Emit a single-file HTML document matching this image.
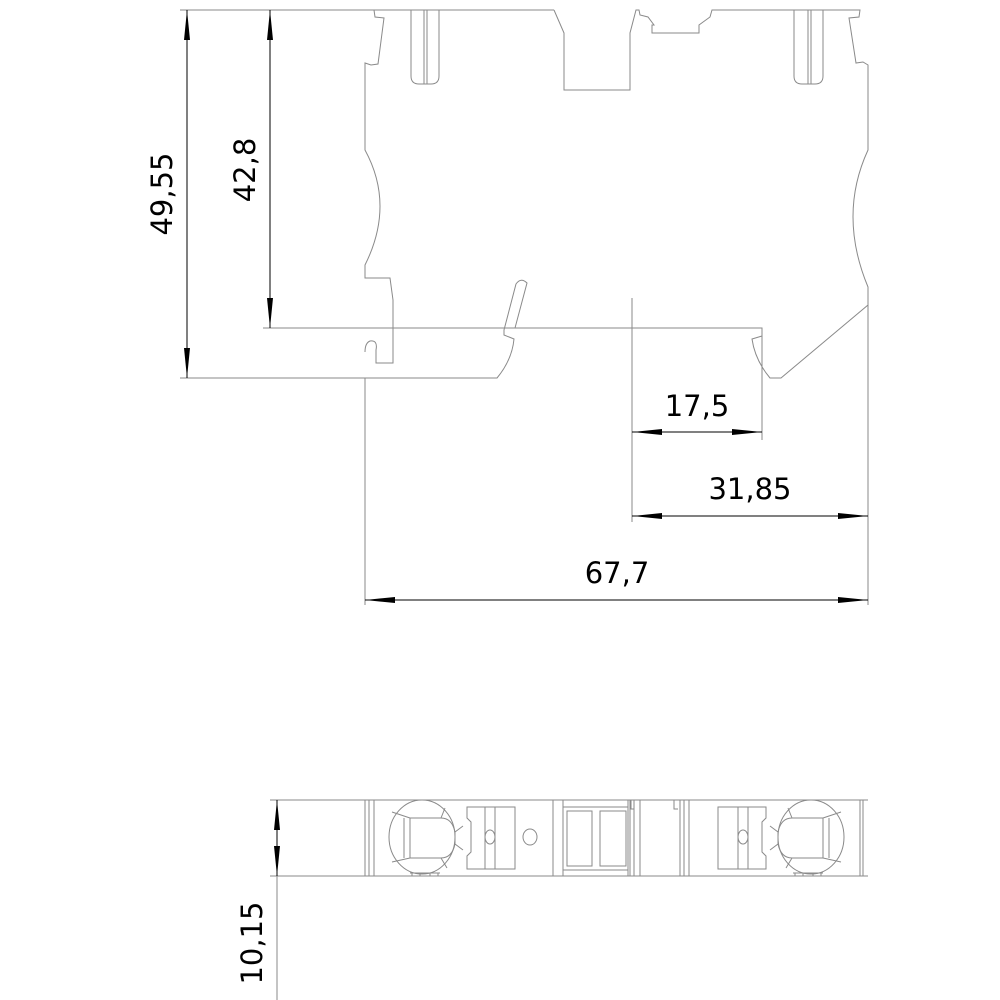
<!DOCTYPE html>
<html><head><meta charset="utf-8"><style>
html,body{margin:0;padding:0;background:#fff;}
svg{display:block;}
text{font-family:"DejaVu Sans","Liberation Sans",sans-serif;font-size:29px;fill:#000;}
</style></head><body>
<svg width="1000" height="1000" viewBox="0 0 1000 1000" xmlns="http://www.w3.org/2000/svg">
<defs>
<marker id="a" markerWidth="30" markerHeight="10" refX="30" refY="5" orient="auto" markerUnits="userSpaceOnUse">
<path d="M0,2 L30,5 L0,8 Z" fill="#000"/></marker>
<marker id="b" markerWidth="30" markerHeight="10" refX="0" refY="5" orient="auto" markerUnits="userSpaceOnUse">
<path d="M30,2 L0,5 L30,8 Z" fill="#000"/></marker>
</defs>
<g fill="none" stroke="#8a8a8a" stroke-width="1">
<!-- main outline -->
<path d="M554,10 L564,33 L564,90 L630,90 L630,33 L636,10 L639,10 L640,15 L648,17 L654,25 L652,25 L652,33 L699,33 L699,25 L710,17 L712,10 L860,10 L859,17 L849,18 L856,63 L863,62 L868,65 L868,150 Q838,215 868,287 L868,305 L781,378 L770,378 Q755,360 752,339 L762,336"/>
<path d="M374,10 L554,10"/>
<path d="M374,10 L375,17 L384,18 L378,64 L371,65 L365,63 L365,150 Q395,205 365,265 L365,278 L390,278 L393,300 L393,363 L376,363 L376,350 Q378,340 370,341 Q365,343 365,352"/>
<path d="M365,378 L497,378 Q512,360 514,339 L504,335 L504,330 L516,284 Q521,277 527,283 L515,328"/>
<!-- slots -->
<path d="M411,10 L411,76 Q411,84 419,84 L431,84 Q439,84 439,76 L439,10"/>
<path d="M424,10 L424,84 M427,10 L427,84"/>
<path d="M794,10 L794,76 Q794,84 802,84 L815,84 Q823,84 823,76 L823,10"/>
<path d="M808,10 L808,84 M811,10 L811,84"/>
<!-- extension lines -->
<path d="M180,10 L374,10 M180,378 L365,378 M263,328 L762,328 L762,440 M632,298 L632,522 M365,378 L365,605 M868,305 L868,605"/>
<!-- bottom view -->
<path d="M270,800 L868,800 M270,876 L868,876 M277,800 L277,1000"/>
<path d="M365,800 V876 M369,800 V876 M374,800 V876 M553,800 V876 M563,800 V876 M628,800 V876 M630,800 V876 M634,800 V876 M640,800 V876 M680,800 V876 M684,800 V876 M689,800 V876 M860,800 V876 M863,800 V876"/>
<ellipse cx="422" cy="837" rx="33" ry="37"/>
<path d="M410,818 L441,818 Q452,818 455,832 L455,844 Q452,858 441,858 L410,858 Z M404,818 L404,858 M392,812 L410,818 M441,818 L445,808 M455,832 L463,826 M455,844 L463,850 M441,858 L447,868 M410,858 L392,862"/>
<path d="M412,873 V876 M420,873 V876 M430,873 V876 M438,873 V876 M410,873 H440"/>
<path d="M467,807 H515 V869 H467 V856 L471,852 V822 L467,818 Z M485,807 V869 M495,807 V869"/>
<ellipse cx="490" cy="837" rx="5" ry="7"/>
<ellipse cx="530" cy="837" rx="7" ry="8"/>
<path d="M563,807 H628 M567,811 H592 V866 H567 Z M600,811 H626 V866 H600 Z M563,870 H628"/>
<path d="M631,800 V809 H634 M674,800 V809 H678"/>
<ellipse cx="811" cy="837" rx="33" ry="37"/>
<path d="M823,818 L792,818 Q781,818 778,832 L778,844 Q781,858 792,858 L823,858 Z M829,818 L829,858 M841,812 L823,818 M792,818 L788,808 M778,832 L770,826 M778,844 L770,850 M792,858 L786,868 M823,858 L841,862"/>
<path d="M795,873 V876 M803,873 V876 M813,873 V876 M821,873 V876 M793,873 H823"/>
<path d="M718,807 H766 V818 L762,822 V852 L766,856 V869 H718 Z M738,807 V869 M748,807 V869"/>
<ellipse cx="743" cy="837" rx="5" ry="7"/>
</g>
<!-- dimension lines -->
<g stroke="#000" stroke-width="1" fill="none">
<line x1="187" y1="10" x2="187" y2="378" marker-start="url(#b)" marker-end="url(#a)"/>
<line x1="270" y1="10" x2="270" y2="328" marker-start="url(#b)" marker-end="url(#a)"/>
<line x1="632" y1="432" x2="762" y2="432" marker-start="url(#b)" marker-end="url(#a)"/>
<line x1="632" y1="516" x2="868" y2="516" marker-start="url(#b)" marker-end="url(#a)"/>
<line x1="365" y1="600" x2="868" y2="600" marker-start="url(#b)" marker-end="url(#a)"/>
<line x1="277" y1="800" x2="277" y2="876" marker-start="url(#b)" marker-end="url(#a)"/>
</g>
<text transform="translate(172,194) rotate(-90)" text-anchor="middle">49,55</text>
<text transform="translate(255,170) rotate(-90)" text-anchor="middle">42,8</text>
<text x="697" y="416" text-anchor="middle">17,5</text>
<text x="750" y="499" text-anchor="middle">31,85</text>
<text x="617" y="583" text-anchor="middle">67,7</text>
<text transform="translate(262,943) rotate(-90)" text-anchor="middle">10,15</text>
</svg>
</body></html>
